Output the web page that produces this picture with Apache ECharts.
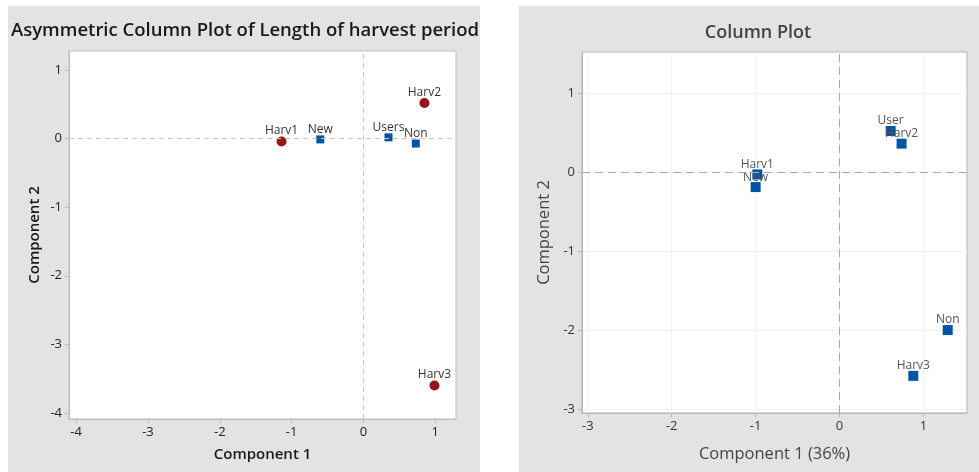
<!DOCTYPE html>
<html>
<head>
<meta charset="utf-8">
<script src="https://cdn.jsdelivr.net/npm/echarts@6/dist/echarts.min.js"></script>
<style>html,body{margin:0;padding:0;background:#fff;}#c{width:979px;height:472px;}</style>
</head>
<body>
<div id="c"></div>
<script>
// ---- Left panel: Asymmetric column plot ----
const leftRowNames = ['New', 'Users', 'Non'];
const leftRowX = [-0.60, 0.35, 0.73];
const leftRowY = [-0.01, 0.02, -0.07];
const leftColNames = ['Harv1', 'Harv2', 'Harv3'];
const leftColX = [-1.14, 0.85, 0.99];
const leftColY = [-0.04, 0.52, -3.60];
const leftXTicks = [-4, -3, -2, -1, 0, 1];
const leftYTicks = [-4, -3, -2, -1, 0, 1];

// ---- Right panel: Column plot ----
const rightNames = ['Harv1', 'New', 'User', 'Harv2', 'Non', 'Harv3'];
const rightX = [-0.98, -1.00, 0.61, 0.74, 1.29, 0.88];
const rightY = [-0.03, -0.19, 0.52, 0.36, -2.00, -2.58];
const rightXTicks = [-3, -2, -1, 0, 1];
const rightYTicks = [-3, -2, -1, 0, 1];

const FONT = '"Open Sans", "Noto Sans", sans-serif';

function pts(names, xs, ys) {
  return names.map((n, i) => ({ name: n, value: [xs[i], ys[i]] }));
}

const chart = echarts.init(document.getElementById('c'), null, { renderer: 'canvas' });

function axisCommon(ticks, color, borderColor) {
  return {
    axisLine: { show: true, onZero: false, lineStyle: { color: borderColor, width: 1 } },
    axisTick: { show: true, customValues: ticks, length: 4, lineStyle: { color: borderColor } },
    axisLabel: { customValues: ticks, color: color, fontSize: 13, fontFamily: FONT, margin: 7 },
    nameLocation: 'middle'
  };
}

const refLineLeft = {
  silent: true, symbol: 'none', label: { show: false },
  lineStyle: { type: [5, 4], color: '#c6c6c6', width: 1 },
  data: [{ xAxis: 0 }, { yAxis: 0 }], animation: false
};
const refLineRight = {
  silent: true, symbol: 'none', label: { show: false },
  lineStyle: { type: [8, 5], color: '#a8a8a8', width: 1 },
  data: [{ xAxis: 0 }, { yAxis: 0 }], animation: false
};

const option = {
  animation: false,
  backgroundColor: '#ffffff',
  graphic: [
    { type: 'rect', shape: { x: 8, y: 6, width: 472, height: 466 }, style: { fill: '#e3e3e3' }, z: -10, silent: true },
    { type: 'rect', shape: { x: 519, y: 6, width: 460, height: 466 }, style: { fill: '#e3e3e3' }, z: -10, silent: true }
  ],
  title: [
    { text: 'Asymmetric Column Plot of Length of harvest period', left: 240, top: 16, textAlign: 'center',
      textStyle: { fontFamily: FONT, fontSize: 18.5, fontWeight: 600, color: '#1a1a1a' } },
    { text: 'Column Plot', left: 753, top: 19, textAlign: 'center',
      textStyle: { fontFamily: FONT, fontSize: 18, fontWeight: 600, color: '#444444' } }
  ],
  grid: [
    { left: 69, top: 51, width: 387, height: 368, show: true, backgroundColor: '#ffffff', borderColor: '#bdbdbd', borderWidth: 1 },
    { left: 582, top: 52, width: 385, height: 361, show: true, backgroundColor: '#ffffff', borderColor: '#b5b5b5', borderWidth: 1 }
  ],
  xAxis: [
    Object.assign(axisCommon(leftXTicks, '#222', '#bdbdbd'), {
      gridIndex: 0, type: 'value', min: -4.10, max: 1.29,
      name: 'Component 1', nameGap: 28,
      nameTextStyle: { fontFamily: FONT, fontSize: 15, fontWeight: 600, color: '#1a1a1a' },
      splitLine: { show: false }
    }),
    Object.assign(axisCommon(rightXTicks, '#333', '#b5b5b5'), {
      gridIndex: 1, type: 'value', min: -3.07, max: 1.52,
      name: 'Component 1 (36%)', nameGap: 33,
      nameTextStyle: { fontFamily: FONT, fontSize: 16.5, fontWeight: 500, color: '#444' },
      splitLine: { show: true, lineStyle: { color: '#f0f0f0', width: 1 } }
    })
  ],
  yAxis: [
    Object.assign(axisCommon(leftYTicks, '#222', '#bdbdbd'), {
      gridIndex: 0, type: 'value', min: -4.09, max: 1.28,
      name: 'Component 2', nameGap: 27,
      nameTextStyle: { fontFamily: FONT, fontSize: 15, fontWeight: 600, color: '#1a1a1a' },
      splitLine: { show: false }
    }),
    Object.assign(axisCommon(rightYTicks, '#333', '#b5b5b5'), {
      gridIndex: 1, type: 'value', min: -3.05, max: 1.52,
      name: 'Component 2', nameGap: 29,
      nameTextStyle: { fontFamily: FONT, fontSize: 16.5, fontWeight: 500, color: '#444' },
      splitLine: { show: true, lineStyle: { color: '#f0f0f0', width: 1 } }
    })
  ],
  series: [
    {
      type: 'scatter', xAxisIndex: 0, yAxisIndex: 0, name: 'Rows',
      symbol: 'rect', symbolSize: 8,
      itemStyle: { color: '#0055a5', opacity: 1 },
      label: { show: true, position: 'top', distance: 0, formatter: '{b}', color: '#333', fontSize: 12, fontFamily: FONT },
      data: pts(leftRowNames, leftRowX, leftRowY),
      markLine: refLineLeft, z: 3
    },
    {
      type: 'scatter', xAxisIndex: 0, yAxisIndex: 0, name: 'Columns',
      symbol: 'circle', symbolSize: 10,
      itemStyle: { color: '#9a1616', opacity: 1 },
      label: { show: true, position: 'top', distance: 0, formatter: '{b}', color: '#333', fontSize: 12, fontFamily: FONT },
      data: pts(leftColNames, leftColX, leftColY), z: 3
    },
    {
      type: 'scatter', xAxisIndex: 1, yAxisIndex: 1, name: 'Column Plot',
      symbol: 'rect', symbolSize: 10,
      itemStyle: { color: '#0055a5', opacity: 1 },
      label: { show: true, position: 'top', distance: -1, formatter: '{b}', color: '#555', fontSize: 12, fontFamily: FONT },
      labelLayout: { hideOverlap: false },
      data: pts(rightNames, rightX, rightY),
      markLine: refLineRight, z: 3
    }
  ]
};
chart.setOption(option);
</script>
</body>
</html>
